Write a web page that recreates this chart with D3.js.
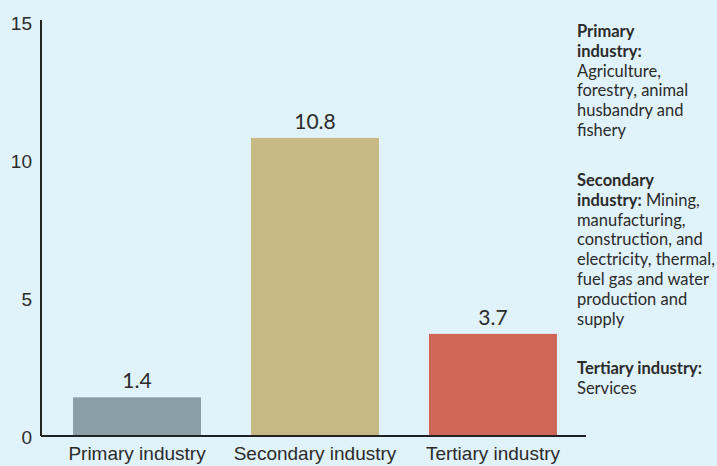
<!DOCTYPE html>
<html lang="en">
<head>
<meta charset="UTF-8">
<title>Industry growth</title>
<script src="https://d3js.org/d3.v7.min.js"></script>
<style>
    body { margin: 0; background: #e0f2fa; }
    svg { display: block; font-family: Lato, "Open Sans", sans-serif; }
    .axis path, .axis line { stroke: #222; }
    .tick text { fill: #2b2b2b; }
    .legend text { fill: #2b2b2b; font-size: 16.5px; }
</style>
</head>
<body>
<svg width="717" height="466"></svg>
<script>
// data
const categories = ["Primary industry", "Secondary industry", "Tertiary industry"];
const values = [1.4, 10.8, 3.7];
const colors = ["#8a9ea7", "#c8b884", "#d06656"];
const yTicks = [0, 5, 10, 15];

// legend notes: bold lines then normal lines (a leading space joins the last bold line)
const notes = [
    { bold: ["Primary", "industry:"], text: ["Agriculture,", "forestry, animal", "husbandry and", "fishery"] },
    { bold: ["Secondary", "industry:"], text: [" Mining,", "manufacturing,", "construction, and", "electricity, thermal,", "fuel gas and water", "production and", "supply"] },
    { bold: ["Tertiary industry:"], text: ["Services"] }
];

const svg = d3.select("svg");
const margin = {top: 22, left: 41, bottom: 30};
const plotRight = 586;
const height = 466 - margin.bottom;

const x = d3.scaleBand()
    .domain(categories)
    .range([margin.left, 589])
    .paddingInner(0.281)
    .paddingOuter(0.18);

const y = d3.scaleLinear()
    .domain([0, 15])
    .range([height, margin.top]);

// bars
svg.append("g")
    .selectAll("rect")
    .data(values)
    .enter().append("rect")
    .attr("x", (d, i) => x(categories[i]))
    .attr("y", d => y(d))
    .attr("width", x.bandwidth())
    .attr("height", d => y(0) - y(d))
    .attr("fill", (d, i) => colors[i]);

// value labels
svg.append("g")
    .selectAll("text")
    .data(values)
    .enter().append("text")
    .attr("x", (d, i) => x(categories[i]) + x.bandwidth() / 2)
    .attr("y", d => y(d) - 9)
    .attr("text-anchor", "middle")
    .style("font-size", "21px")
    .style("fill", "#2b2b2b")
    .text(d => d);

// y axis
const yAxis = svg.append("g")
    .attr("class", "axis")
    .attr("transform", "translate(" + margin.left + ",0)")
    .call(d3.axisLeft(y).tickValues(yTicks).tickSize(0).tickPadding(9));
yAxis.select(".domain").attr("stroke-width", 2).attr("d", "M0," + (margin.top - 2) + "V" + height);
yAxis.selectAll(".tick text").style("font-size", "19px").attr("dy", "0.38em");

// x axis
const xAxis = svg.append("g")
    .attr("class", "axis")
    .attr("transform", "translate(0," + height + ")")
    .call(d3.axisBottom(x).tickSize(0).tickPadding(11));
xAxis.select(".domain").attr("stroke-width", 2).attr("d", "M" + margin.left + ",0H" + plotRight);
xAxis.selectAll(".tick text").style("font-size", "19px");

// legend notes
const lineH = 19.8;
const starts = [37, 186, 374];
const legend = svg.append("g").attr("class", "legend");
notes.forEach((n, k) => {
    let yy = starts[k];
    n.bold.forEach((b, j) => {
        const t = legend.append("text").attr("x", 577).attr("y", yy);
        t.append("tspan").style("font-weight", "bold").text(b);
        if (j === n.bold.length - 1 && n.text[0].startsWith(" ")) {
            t.append("tspan").text(n.text[0]);
        }
        yy += lineH;
    });
    n.text.forEach(s => {
        if (s.startsWith(" ")) return;
        legend.append("text").attr("x", 577).attr("y", yy).text(s);
        yy += lineH;
    });
});
</script>
</body>
</html>
